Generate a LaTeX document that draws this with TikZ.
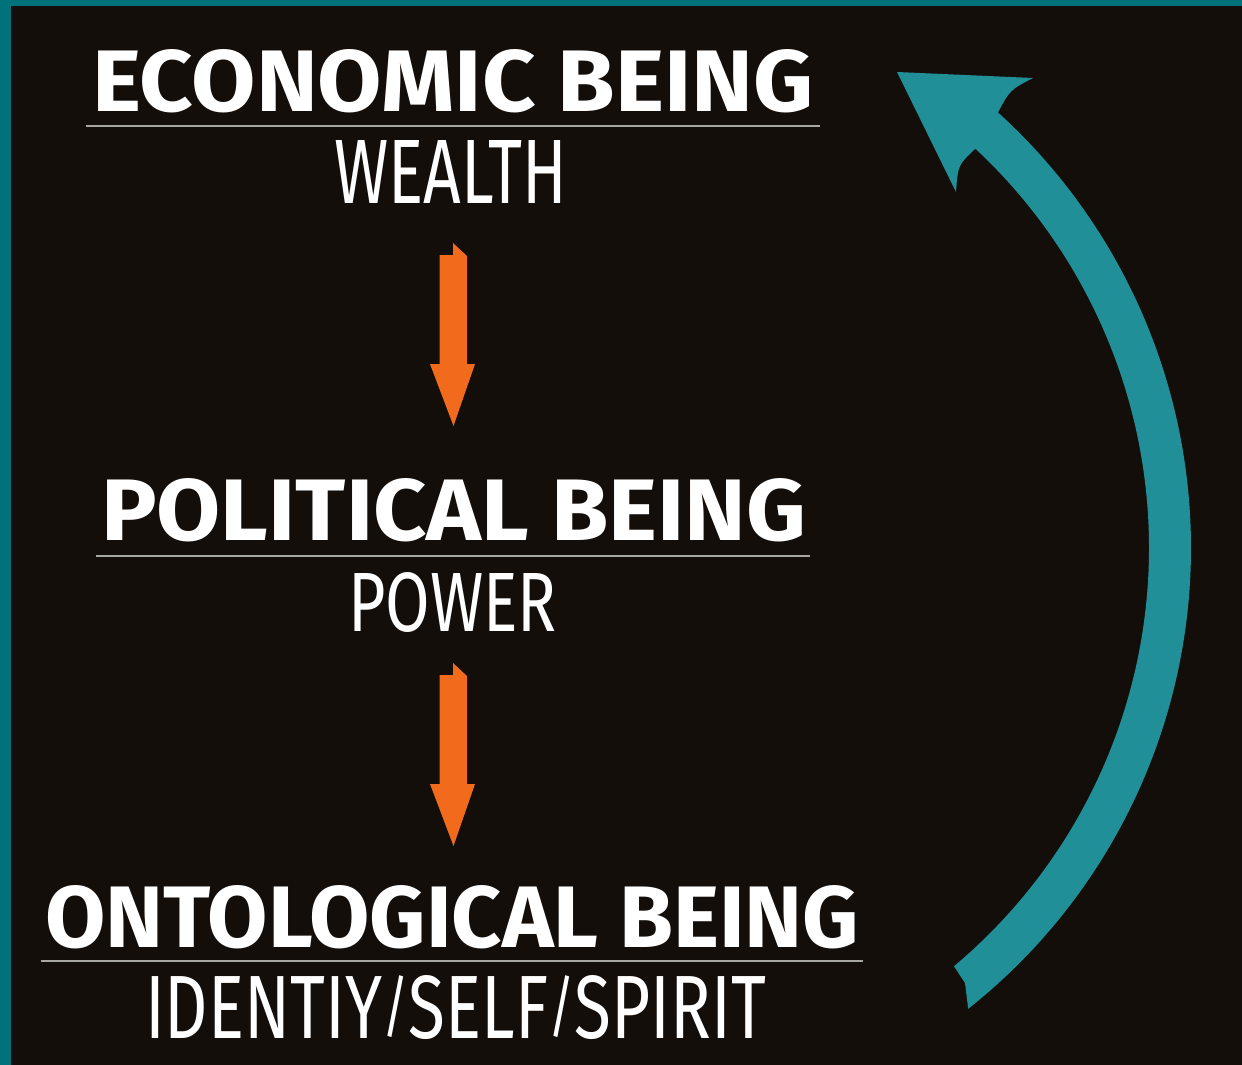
\documentclass[tikz,border=0pt]{standalone}
\usepackage{fontspec}
\usepackage{graphicx}
\newfontfamily\titlefont{Fira Sans}
\newfontfamily\subfont{Fira Sans}
\definecolor{bgc}{HTML}{140E0A}
\definecolor{framec}{HTML}{00727A}
\definecolor{tealarrow}{HTML}{218F97}
\definecolor{orangearrow}{HTML}{F26B1C}
\definecolor{rulegray}{HTML}{A8A6A2}
\newcommand{\capslash}{\resizebox{!}{\fontcharht\font`H}{\raisebox{\fontchardp\font`/}{/}}}
\tikzset{
  titletext/.style={text=white, inner sep=0pt, outer sep=0pt, anchor=north west, font=\titlefont\bfseries\fontsize{40}{40}\selectfont},
  subtext/.style={text=white, inner sep=0pt, outer sep=0pt, anchor=north west, font=\subfont\fontsize{40}{40}\selectfont},
  rulestyle/.style={draw=rulegray, line width=2pt},
  downarrow/.style={fill=orangearrow},
}
\begin{document}
\begin{tikzpicture}[x=1pt,y=1pt]
\useasboundingbox (0,0) rectangle (1242,-1065);
\fill[framec] (0,0) rectangle (1242,-1065);
\fill[bgc] (11,-6) rectangle (1242,-1065);

% titles and subtitles
\node[titletext] (econ) at (92,-49) {\resizebox{722pt}{62pt}{ECONOMIC BEING}};
\draw[rulestyle] (86,-126) -- (820,-126);
\node[subtext] (wealth) at (334,-140) {\resizebox{233pt}{63pt}{WEALTH}};

\node[titletext] (pol) at (101,-478) {\resizebox{705pt}{62pt}{POLITICAL BEING}};
\draw[rulestyle] (96,-555.5) -- (810,-555.5);
\node[subtext] (power) at (348,-572) {\resizebox{209pt}{59pt}{POWER}};

\node[titletext] (onto) at (45,-885) {\resizebox{814pt}{62pt}{ONTOLOGICAL BEING}};
\draw[rulestyle] (41,-961) -- (863,-961);
\node[subtext] (ident) at (145,-975) {\resizebox{621pt}{63pt}{IDENTIY\capslash SELF\capslash SPIRIT}};

% orange down arrows
\foreach \dy in {0,-420}{
  \begin{scope}[yshift=\dy]
    \fill[downarrow] (439.5,-255) -- (453,-255) -- (453,-243) -- (467,-256)
      -- (467,-364) -- (475,-364) -- (453.5,-426) -- (430,-364) -- (439.5,-364) -- cycle;
  \end{scope}
}

% teal return arc arrow
\coordinate (arcc) at (603,-548);
\fill[tealarrow] ([shift={(arcc)}]-51.6:588)
  arc[start angle=-51.6, end angle=47.8, radius=588]
  .. controls (1010,-90) .. (1033,-78)
  -- (897,-72) -- (956,-192)
  .. controls (958,-165) .. ([shift={(arcc)}]47:546)
  arc[start angle=47, end angle=-50, radius=546]
  -- (965,-983) -- cycle;
\end{tikzpicture}
\end{document}
